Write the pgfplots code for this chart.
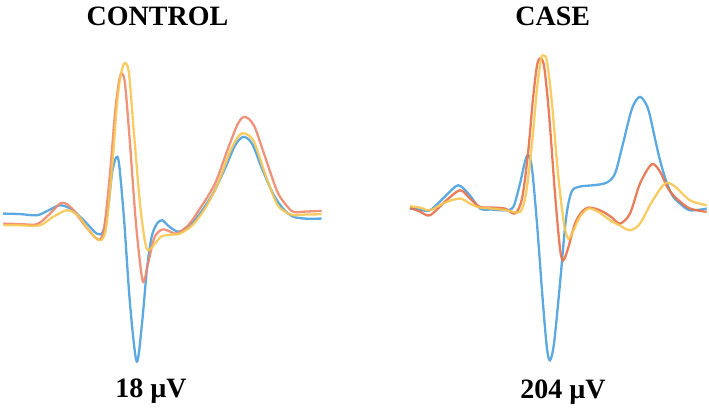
\documentclass[border=0pt]{standalone}
\usepackage{fontspec}
\setmainfont{Liberation Serif}
\usepackage{pgfplots}
\pgfplotsset{compat=1.18}
\definecolor{ecgblue}{RGB}{74,160,222}
\definecolor{ecgsalmon}{RGB}{238,135,108}
\definecolor{ecgorange}{RGB}{232,112,72}
\definecolor{ecgyellow}{RGB}{248,198,82}

\begin{document}
\begin{tikzpicture}
\begin{axis}[
  scale only axis, width=354.5pt, height=202pt,
  xmin=0, xmax=709, ymin=0, ymax=404, y dir=reverse,
  hide axis, clip=false,
  every axis plot/.append style={line width=1.15pt, smooth, tension=0.5, opacity=0.9}
]
\path (axis cs:0,0) rectangle (axis cs:709,404);
% CONTROL
\addplot[ecgblue] coordinates {(3,210)(20,210.5)(37,211.7)(48,207)(60,201.7)(72,206)(85,218)(96.7,230)(103,228)(108,205)(112,170)(116,154)(119,160)(124,215)(130,300)(136.7,358)(142,320)(147,265)(151.7,233)(157,220)(162.3,216.7)(168,222)(175,227)(180,228)(190,222)(200,210)(213,190)(225,165)(235,142)(243.3,133.3)(252,140)(262,165)(273,190)(283,205)(293,213)(305,215)(321.7,215)};
\addplot[ecgsalmon] coordinates {(3.3,220)(20,220.5)(36.7,220.7)(48,212)(61.7,199.3)(72,205)(85,222)(98.3,236)(104,225)(110,170)(115,110)(119,78)(121.7,70)(125,80)(130,140)(136,220)(142.7,277.3)(148,260)(154,235)(160,227)(165,226)(172,229)(176.7,230)(188,222)(200,205)(215,180)(228,145)(238,120)(245,113.3)(254,122)(264,150)(276.7,186.7)(285,200)(293.3,208.3)(305,208)(321.7,207.3)};
\addplot[ecgyellow] coordinates {(3.3,221.7)(20,221.7)(40,221.7)(52,214)(66.7,206.7)(78,212)(90,228)(100,236.7)(106,225)(112,165)(117,100)(121,70)(125,59.3)(129,70)(134,130)(140,200)(145,238)(148.3,246.7)(155,240)(161,233)(166.7,231.7)(172,231)(180,230)(192,222)(205,205)(218,180)(230,148)(239,132)(245,130)(254,138)(265,170)(276.7,200)(285,208)(293.3,211.7)(305,211)(321.7,210.7)};
% CASE
\addplot[ecgblue] coordinates {(410,205)(420,206)(430,206.7)(445,193)(458.3,181.7)(470,192)(480,205)(492,206)(505,206.7)(513.3,203.3)(520,180)(525,158)(528.3,151.7)(532,165)(537,220)(543,300)(547,345)(550,356.7)(554,340)(560,280)(566,215)(571.7,188)(580,183)(595,181.5)(606.7,179)(615,170)(623,140)(632,105)(640,93.3)(648,105)(655,135)(660,156.7)(667,180)(673.3,193.3)(680,200)(690,206.7)(706.7,205)};
\addplot[ecgorange] coordinates {(410,204)(420,208)(430,211.7)(445,198)(460,186.7)(470,195)(480,203.3)(492,204)(505,205)(515,210)(522,195)(528,150)(533,95)(537,62)(540,55)(544,62)(549,110)(555,190)(560,245)(563.3,256.7)(568,245)(575,220)(582,208)(588.3,204)(595,205)(603.3,208.3)(612,214)(620,220)(630,210)(640,180)(651.7,160.7)(660,168)(667,183)(673.3,191.7)(680,198)(690,205)(706.7,208.3)};
\addplot[ecgyellow] coordinates {(410,202.7)(420,204)(430,206.7)(445,199)(460,195)(470,200)(480,204)(492,205)(506.7,206.7)(520,208.3)(526,190)(532,140)(537,85)(541,56)(543.3,51.7)(547,58)(552,100)(558,170)(564,220)(568.3,235)(573,228)(580,213)(588.3,205)(598,208)(610,216.7)(620,222)(630,226.7)(640,220)(652,198)(665,180)(675,183)(690,196.7)(706.7,201.7)};
\begin{scope}[font=\fontsize{14}{16}\selectfont\bfseries]
\node at (axis cs:157.5,12.5) {CONTROL};
\node at (axis cs:552.7,12.5) {CASE};
\node at (axis cs:151,387.5) {18 µV};
\node at (axis cs:563,389) {204 µV};
\end{scope}
\end{axis}
\end{tikzpicture}
\end{document}
